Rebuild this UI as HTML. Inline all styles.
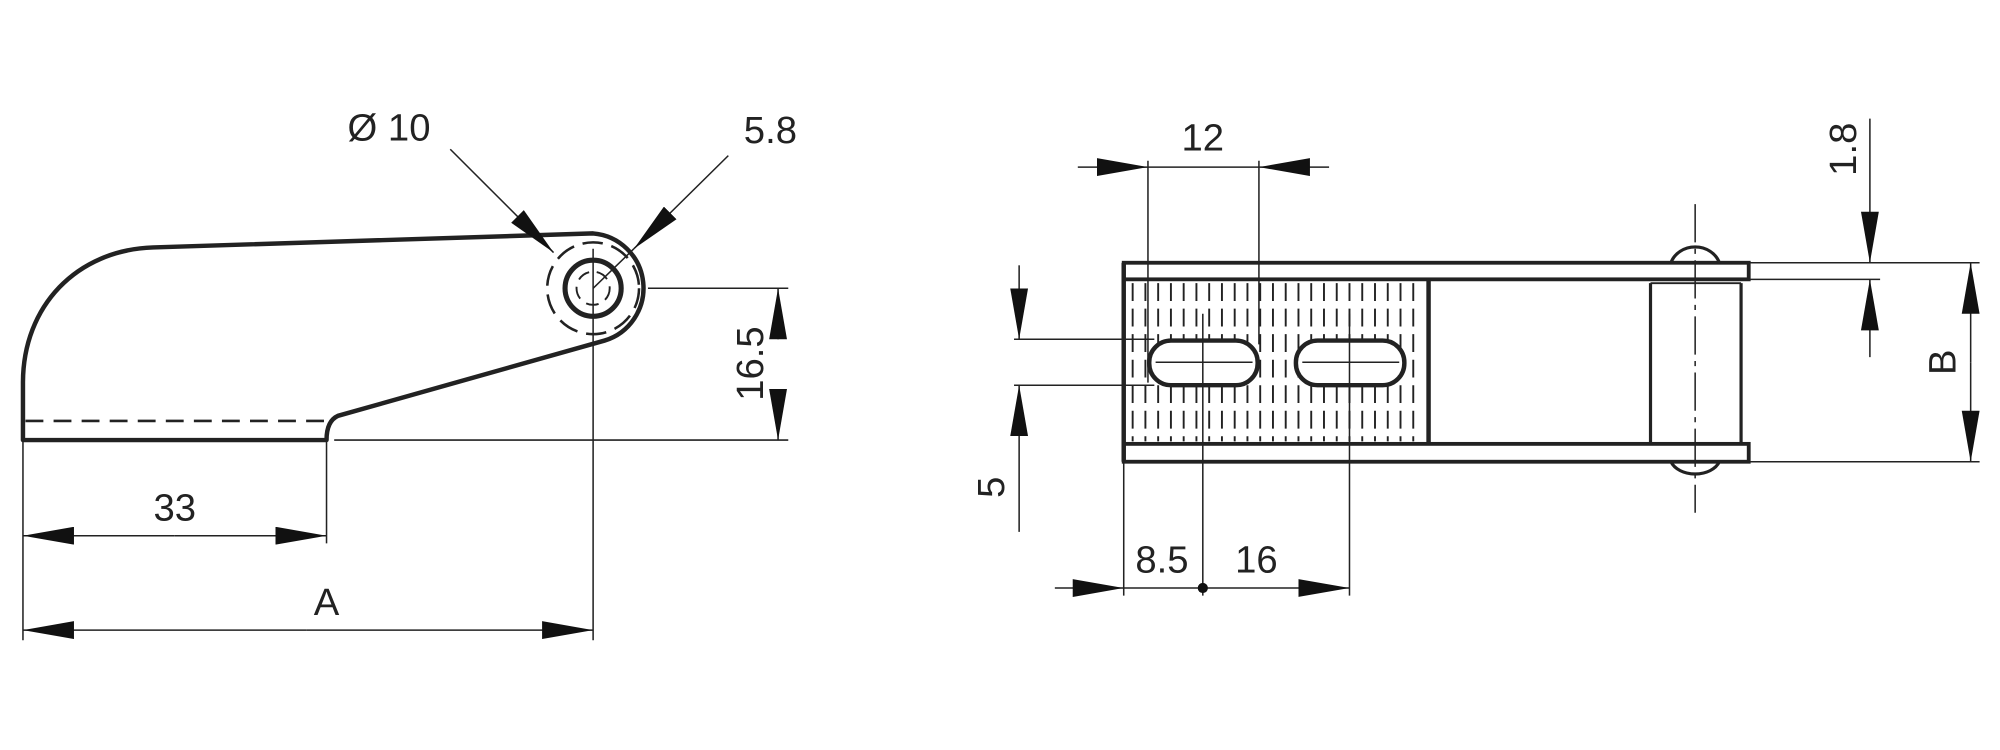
<!DOCTYPE html>
<html><head><meta charset="utf-8"><style>html,body{margin:0;padding:0;background:#fff}svg{display:block}text{font-family:"Liberation Sans",sans-serif;fill:#222}</style></head>
<body>
<svg width="2000" height="750" viewBox="0 0 1568 588" preserveAspectRatio="none" xmlns="http://www.w3.org/2000/svg">
<defs>
<marker id="a" viewBox="0 0 40 14" refX="40" refY="7" markerWidth="40" markerHeight="14" markerUnits="userSpaceOnUse" orient="auto"><path d="M0,0 L40,7 L0,14z" fill="#111"/></marker>
</defs>
<g stroke="#222" fill="none">
<path d="M18,345 L18,300 C18,240 60,196 120,194 L465,183 A43,43 0 0 1 474,267 L265,326 Q256,330 256,345 Z" stroke-width="3.5" stroke-linejoin="round"/>
<line x1="20" y1="330" x2="258" y2="330" stroke-width="2" stroke-dasharray="14,8"/>
<circle cx="465" cy="226" r="22" stroke-width="4"/>
<circle cx="465" cy="226" r="36" stroke-width="2" stroke-dasharray="16,7"/>
<circle cx="465" cy="226" r="13" stroke-width="1.5" stroke-dasharray="10,6"/>
<g stroke-width="1.2">
<line x1="465" y1="195" x2="465" y2="502"/>
<line x1="508" y1="226" x2="618" y2="226"/>
<line x1="262" y1="345" x2="618" y2="345"/>
<line x1="18" y1="345" x2="18" y2="502"/>
<line x1="256" y1="345" x2="256" y2="426"/>
<line x1="610" y1="266" x2="610" y2="226" marker-end="url(#a)"/>
<line x1="610" y1="305" x2="610" y2="345" marker-end="url(#a)"/>
<line x1="137" y1="420" x2="18" y2="420" marker-end="url(#a)"/>
<line x1="137" y1="420" x2="256" y2="420" marker-end="url(#a)"/>
<line x1="240" y1="494" x2="18" y2="494" marker-end="url(#a)"/>
<line x1="240" y1="494" x2="465" y2="494" marker-end="url(#a)"/>
<line x1="353" y1="117" x2="434" y2="198" marker-end="url(#a)"/>
<line x1="571" y1="122" x2="497" y2="195" marker-end="url(#a)"/>
<line x1="497" y1="195" x2="465" y2="226"/>
</g>
<g stroke-width="1.5" stroke-dasharray="14,6">
<line x1="888" y1="222" x2="888" y2="346"/><line x1="898" y1="222" x2="898" y2="346"/>
<line x1="908" y1="222" x2="908" y2="346"/><line x1="918" y1="222" x2="918" y2="346"/>
<line x1="928" y1="222" x2="928" y2="346"/><line x1="938" y1="222" x2="938" y2="346"/>
<line x1="948" y1="222" x2="948" y2="346"/><line x1="958" y1="222" x2="958" y2="346"/>
<line x1="968" y1="222" x2="968" y2="346"/><line x1="978" y1="222" x2="978" y2="346"/>
<line x1="988" y1="222" x2="988" y2="346"/><line x1="998" y1="222" x2="998" y2="346"/>
<line x1="1008" y1="222" x2="1008" y2="346"/><line x1="1018" y1="222" x2="1018" y2="346"/>
<line x1="1028" y1="222" x2="1028" y2="346"/><line x1="1038" y1="222" x2="1038" y2="346"/>
<line x1="1048" y1="222" x2="1048" y2="346"/><line x1="1058" y1="222" x2="1058" y2="346"/>
<line x1="1068" y1="222" x2="1068" y2="346"/><line x1="1078" y1="222" x2="1078" y2="346"/>
<line x1="1088" y1="222" x2="1088" y2="346"/><line x1="1098" y1="222" x2="1098" y2="346"/>
<line x1="1108" y1="222" x2="1108" y2="346"/>
</g>
<rect x="901" y="267" width="85" height="35" rx="17" fill="#fff" stroke-width="3.5"/>
<rect x="1016" y="267" width="85" height="35" rx="17" fill="#fff" stroke-width="3.5"/>
<path d="M1310,206 A20,18 0 0 1 1348,206 M1310,362 A20,14 0 0 0 1348,362" stroke-width="2.5"/>
<rect x="881" y="206" width="490" height="13" stroke-width="3" fill="#fff"/>
<rect x="881" y="348" width="490" height="14" stroke-width="3" fill="#fff"/>
<line x1="881" y1="206" x2="881" y2="362" stroke-width="3.5"/>
<line x1="1120" y1="219" x2="1120" y2="348" stroke-width="3.5"/>
<line x1="1294" y1="222" x2="1294" y2="348" stroke-width="2.5"/>
<line x1="1365" y1="222" x2="1365" y2="348" stroke-width="2.5"/>
<line x1="1294" y1="222" x2="1365" y2="222" stroke-width="1.5"/>
<g stroke-width="1.2">
<line x1="1329" y1="160" x2="1329" y2="402" stroke-dasharray="30,5,4,5"/>
<line x1="906" y1="284" x2="982" y2="284"/><line x1="1021" y1="284" x2="1097" y2="284"/>
<line x1="900" y1="126" x2="900" y2="300"/><line x1="987" y1="126" x2="987" y2="270"/>
<line x1="845" y1="131" x2="900" y2="131" marker-end="url(#a)"/>
<line x1="1042" y1="131" x2="987" y2="131" marker-end="url(#a)"/>
<line x1="900" y1="131" x2="987" y2="131"/>
<line x1="795" y1="266" x2="905" y2="266"/><line x1="795" y1="302" x2="905" y2="302"/>
<line x1="799" y1="208" x2="799" y2="266" marker-end="url(#a)"/>
<line x1="799" y1="417" x2="799" y2="302" marker-end="url(#a)"/>
<line x1="881" y1="362" x2="881" y2="467"/>
<line x1="943" y1="246" x2="943" y2="467"/>
<line x1="1058" y1="246" x2="1058" y2="467"/>
<line x1="827" y1="461" x2="881" y2="461" marker-end="url(#a)"/>
<line x1="881" y1="461" x2="1058" y2="461" marker-end="url(#a)"/>
<line x1="1371" y1="206" x2="1552" y2="206"/>
<line x1="1371" y1="219" x2="1474" y2="219"/>
<line x1="1371" y1="362" x2="1552" y2="362"/>
<line x1="1466" y1="93" x2="1466" y2="206" marker-end="url(#a)"/>
<line x1="1466" y1="280" x2="1466" y2="219" marker-end="url(#a)"/>
<line x1="1545" y1="284" x2="1545" y2="206" marker-end="url(#a)"/>
<line x1="1545" y1="284" x2="1545" y2="362" marker-end="url(#a)"/>
</g>
<circle cx="943" cy="461" r="4" fill="#111" stroke="none"/>
</g>
<g font-size="30">
<text x="305" y="110" text-anchor="middle">Ø 10</text>
<text x="604" y="112" text-anchor="middle">5.8</text>
<text x="137" y="408" text-anchor="middle">33</text>
<text x="256" y="482" text-anchor="middle">A</text>
<text transform="translate(598,285) rotate(-90)" text-anchor="middle">16.5</text>
<text x="943" y="118" text-anchor="middle">12</text>
<text x="911" y="449" text-anchor="middle">8.5</text>
<text x="985" y="449" text-anchor="middle">16</text>
<text transform="translate(787,382) rotate(-90)" text-anchor="middle">5</text>
<text transform="translate(1455,117) rotate(-90)" text-anchor="middle">1.8</text>
<text transform="translate(1533,284) rotate(-90)" text-anchor="middle">B</text>
</g>
</svg>
</body></html>
